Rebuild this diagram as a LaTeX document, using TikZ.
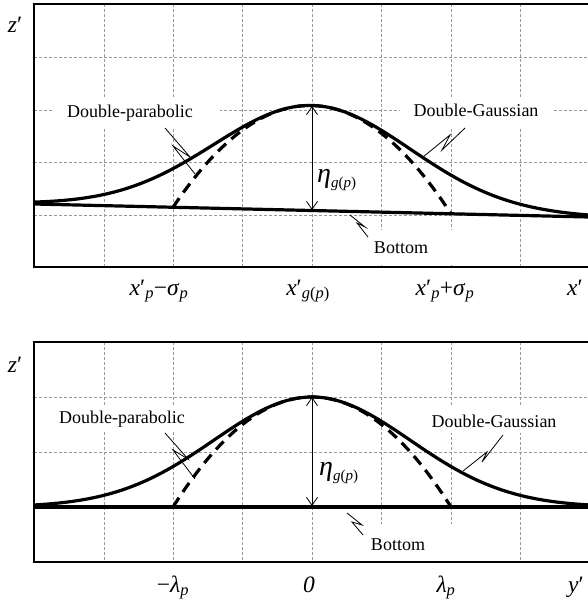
\documentclass[tikz,border=0pt]{standalone}
\usepackage{fontspec}
\setmainfont{Liberation Serif}
\usetikzlibrary{arrows.meta}
\newcommand{\axl}[1]{{\fontsize{23.5}{23.5}\selectfont #1}}
\newcommand{\lbl}[1]{{\fontsize{18}{18}\selectfont #1}}
\newcommand{\etal}{{\fontsize{28}{28}\selectfont\textit{η}}\raisebox{-5pt}{\fontsize{15}{15}\selectfont\textit{g}(\textit{p})}}
\tikzset{
  gridln/.style={draw=black!40, line width=0.8pt, dash pattern=on 3pt off 2pt},
  framebox/.style={draw=black, line width=1.8pt},
  curve/.style={draw=black, line width=3.2pt},
  dashcurve/.style={draw=black, line width=3.2pt, dash pattern=on 11pt off 7pt},
  leader/.style={draw=black, line width=0.8pt, line join=miter},
  etaarrow/.style={draw=black, line width=0.8pt, {Straight Barb[length=8pt,width=11pt]}-{Straight Barb[length=8pt,width=11pt]}},
  mask/.style={fill=white},
  txt/.style={inner sep=0pt, anchor=base}
}
\begin{document}
\begin{tikzpicture}[x=1pt,y=-1pt]
\useasboundingbox (0,0) rectangle (587,608);
% ---------- top panel ----------
\foreach \gx in {104,173,242,312,381,451,520} \draw[gridln] (\gx,4) -- (\gx,267);
\foreach \gy in {57,110,162,215} \draw[gridln] (34,\gy) -- (589,\gy);
\fill[mask] (53,97) rectangle (220,127);
\fill[mask] (400,97) rectangle (553,127);
\fill[mask] (340,230) rectangle (460,265);
\draw[framebox] (34,4) rectangle (589,267);
\coordinate (tbl) at (34,204);
\coordinate (tbr) at (589,217);
\draw[curve] (tbl) -- (tbr);
\draw[curve] plot[domain=34:589, samples=160, smooth] (\x,{204+(\x-34)*13/555-105*exp(-((\x-312)/139)^2)});
\draw[dashcurve] plot[domain=173:451, samples=80, smooth] (\x,{204+(\x-34)*13/555-105*(1-((\x-312)/139)^2)});
\coordinate (tpk) at (312,106);
\coordinate (tbase) at (312,210);
\draw[etaarrow] (tbase) -- (tpk);
\node[txt, anchor=base west] (teta) at (317,182) {\etal};
% leaders top
\coordinate (l1a) at (165,128); \coordinate (l1b) at (190,157); \coordinate (l1c) at (173,146); \coordinate (l1d) at (195,174);
\draw[leader] (l1a) -- (l1b) -- (l1c) -- (l1d);
\coordinate (l2a) at (423,157); \coordinate (l2b) at (450,135); \coordinate (l2c) at (442,150); \coordinate (l2d) at (465,128);
\draw[leader] (l2a) -- (l2b) -- (l2c) -- (l2d);
\coordinate (l3a) at (350,215); \coordinate (l3b) at (365,227); \coordinate (l3c) at (357,223); \coordinate (l3d) at (368,237);
\draw[leader] (l3a) -- (l3b) -- (l3c) -- (l3d);
\node[txt] (tdp) at (130,117) {\lbl{Double-parabolic}};
\node[txt] (tdg) at (476,116) {\lbl{Double-Gaussian}};
\node[txt] (tbo) at (401,253) {\lbl{Bottom}};
\node[txt] (tz) at (15,32) {\axl{\textit{z}′}};
\node[txt] (tx1) at (159,295) {\axl{\textit{x}′\textsubscript{\textit{p}}−\textit{σ}\textsubscript{\textit{p}}}};
\node[txt] (tx2) at (308,295) {\axl{\textit{x}′\textsubscript{\textit{g}(\textit{p})}}};
\node[txt] (tx3) at (445,295) {\axl{\textit{x}′\textsubscript{\textit{p}}+\textit{σ}\textsubscript{\textit{p}}}};
\node[txt] (tx4) at (575,295) {\axl{\textit{x}′}};
% ---------- bottom panel ----------
\foreach \gx in {104,173,242,312,381,451,520} \draw[gridln] (\gx,342) -- (\gx,562);
\foreach \gy in {397,452} \draw[gridln] (34,\gy) -- (589,\gy);
\fill[mask] (45,405) rectangle (200,431);
\fill[mask] (418,405) rectangle (570,433);
\fill[mask] (340,524) rectangle (460,560);
\draw[framebox] (34,342) rectangle (589,562);
\coordinate (bbl) at (34,507);
\coordinate (bbr) at (589,507);
\draw[curve, line width=3.5pt] (bbl) -- (bbr);
\draw[curve] plot[domain=34:589, samples=160, smooth] (\x,{507-110*exp(-((\x-312)/139)^2)});
\draw[dashcurve] plot[domain=173:451, samples=80, smooth] (\x,{507-110*(1-((\x-312)/139)^2)});
\coordinate (bpk) at (312,397);
\coordinate (bbase) at (312,506);
\draw[etaarrow] (bbase) -- (bpk);
\node[txt, anchor=base west] (beta) at (319,475) {\etal};
\coordinate (m1a) at (165,433); \coordinate (m1b) at (188,459); \coordinate (m1c) at (173,450); \coordinate (m1d) at (195,479);
\draw[leader] (m1a) -- (m1b) -- (m1c) -- (m1d);
\coordinate (m2a) at (463,471); \coordinate (m2b) at (487,452); \coordinate (m2c) at (482,462); \coordinate (m2d) at (503,435);
\draw[leader] (m2a) -- (m2b) -- (m2c) -- (m2d);
\coordinate (m3a) at (347,513); \coordinate (m3b) at (362,525); \coordinate (m3c) at (352,522); \coordinate (m3d) at (363,535);
\draw[leader] (m3a) -- (m3b) -- (m3c) -- (m3d);
\node[txt] (bdp) at (122,423) {\lbl{Double-parabolic}};
\node[txt] (bdg) at (494,427) {\lbl{Double-Gaussian}};
\node[txt] (bbo) at (398,550) {\lbl{Bottom}};
\node[txt] (bz) at (15,372) {\axl{\textit{z}′}};
\node[txt] (by1) at (173,592) {\axl{−\textit{λ}\textsubscript{\textit{p}}}};
\node[txt] (by2) at (309,592) {\axl{\textit{0}}};
\node[txt] (by3) at (446,592) {\axl{\textit{λ}\textsubscript{\textit{p}}}};
\node[txt] (by4) at (576,592) {\axl{\textit{y}′}};
\end{tikzpicture}
\end{document}
